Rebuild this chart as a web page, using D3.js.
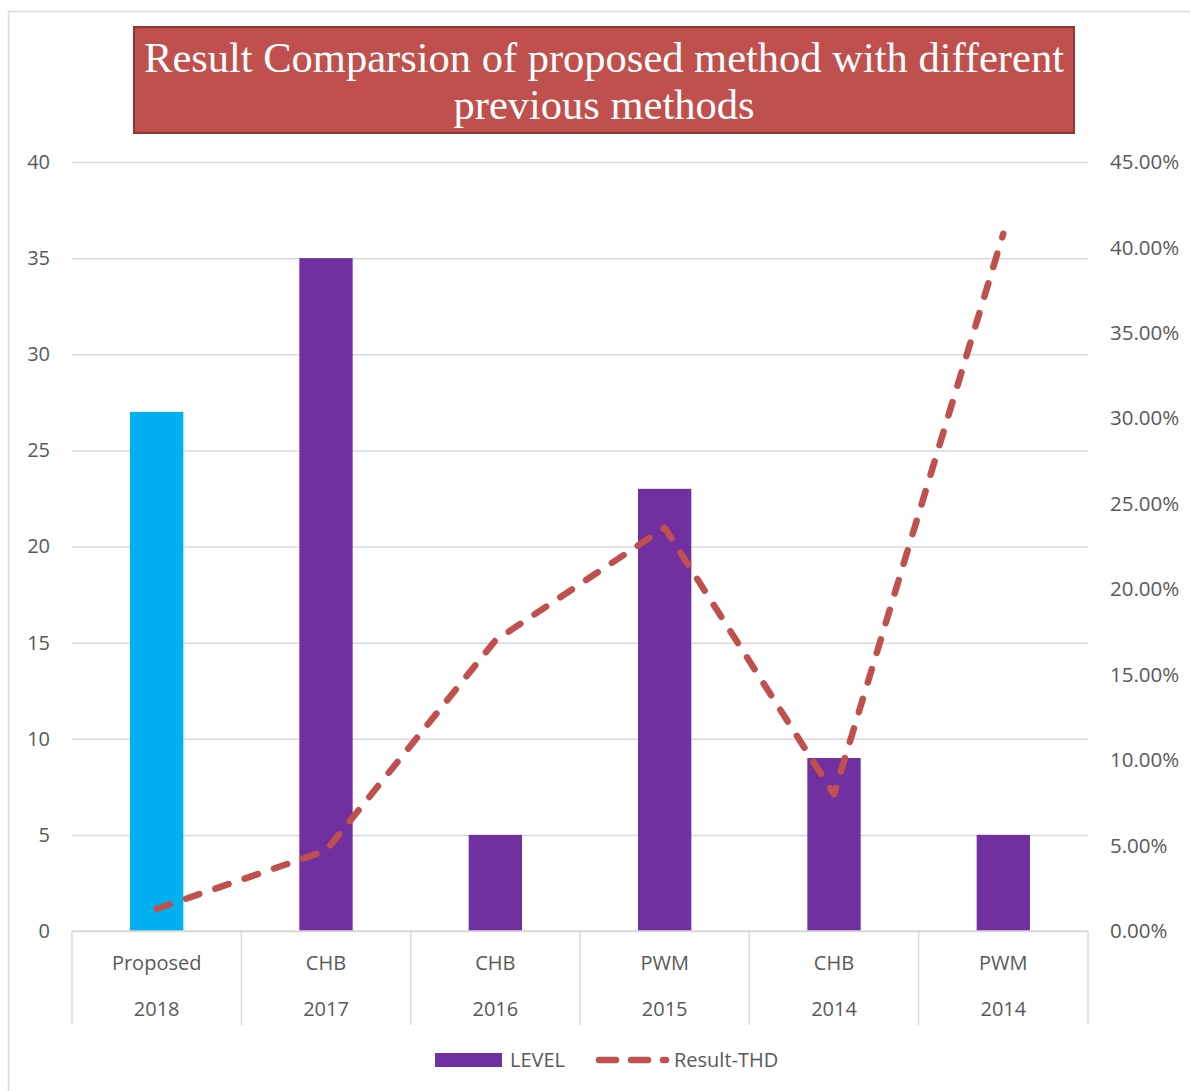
<!DOCTYPE html>
<html>
<head>
<meta charset="utf-8">
<script src="https://cdn.jsdelivr.net/npm/d3@7"></script>
<style>
  body { margin: 0; background: #fff; }
  svg { display: block; }
</style>
</head>
<body>
<svg id="chart"></svg>
<script>
// data
const methods = ['Proposed', 'CHB', 'CHB', 'PWM', 'CHB', 'PWM'];
const years = ['2018', '2017', '2016', '2015', '2014', '2014'];
const levels = [27, 35, 5, 23, 9, 5];
const thd = [0.013, 0.047, 0.17, 0.236, 0.08, 0.408];
const levelTicks = [0, 5, 10, 15, 20, 25, 30, 35, 40];
const thdTicks = [0, 0.05, 0.10, 0.15, 0.20, 0.25, 0.30, 0.35, 0.40, 0.45];

const width = 1190, height = 1091;
const margin = { top: 162, right: 102, bottom: 160, left: 72 };
const innerW = width - margin.left - margin.right;
const innerH = height - margin.top - margin.bottom;
const font = "'Open Sans', 'Noto Sans', sans-serif";
const textColor = '#595959';
const gridColor = '#d9d9d9';

const svg = d3.select('#chart')
    .attr('width', width)
    .attr('height', height);

// outer chart border
svg.append('rect')
    .attr('x', 8.5).attr('y', 11.5)
    .attr('width', width).attr('height', height)
    .attr('fill', 'none')
    .attr('stroke', gridColor)
    .attr('stroke-width', 1.5);

const chart = svg.append('g')
    .attr('transform', `translate(${margin.left},${margin.top})`);

const xScale = d3.scaleBand()
    .domain(d3.range(methods.length))
    .range([0, innerW])
    .paddingInner(0.685)
    .paddingOuter(0.3425);

const bandStep = innerW / methods.length;

const yLeft = d3.scaleLinear().domain([0, 40]).range([innerH, 0]);
const yRight = d3.scaleLinear().domain([0, 0.45]).range([innerH, 0]);

// gridlines + left axis
const yAxis = d3.axisLeft(yLeft)
    .tickValues(levelTicks)
    .tickSize(-innerW)
    .tickPadding(22)
    .tickFormat(d3.format('d'));

const yAxisG = chart.append('g')
    .call(yAxis)
    .call(g => g.select('.domain').remove());
yAxisG.selectAll('line').attr('stroke', gridColor).attr('stroke-width', 1.5);
yAxisG.selectAll('text')
    .attr('fill', textColor)
    .style('font-family', font)
    .style('font-size', '20px');

// right axis (percent)
const yAxisR = d3.axisRight(yRight)
    .tickValues(thdTicks)
    .tickSize(0)
    .tickPadding(22)
    .tickFormat(d3.format('.2%'));

const yAxisRG = chart.append('g')
    .attr('transform', `translate(${innerW},0)`)
    .call(yAxisR)
    .call(g => g.select('.domain').remove());
yAxisRG.selectAll('text')
    .attr('fill', textColor)
    .style('font-family', font)
    .style('font-size', '20.5px');

// bars
chart.selectAll('.bar')
    .data(levels)
    .join('rect')
    .attr('class', 'bar')
    .attr('x', (d, i) => xScale(i))
    .attr('y', d => yLeft(d))
    .attr('width', xScale.bandwidth())
    .attr('height', d => innerH - yLeft(d))
    .attr('fill', (d, i) => i === 0 ? '#00b0f0' : '#7030a0');

// category axis with two label rows
const catG = chart.append('g')
    .attr('transform', `translate(0,${innerH})`);

catG.append('line')
    .attr('x1', 0).attr('x2', innerW)
    .attr('stroke', gridColor).attr('stroke-width', 1.5);

catG.selectAll('.sep')
    .data(d3.range(methods.length + 1))
    .join('line')
    .attr('class', 'sep')
    .attr('x1', i => i * bandStep).attr('x2', i => i * bandStep)
    .attr('y1', 0).attr('y2', 94)
    .attr('stroke', gridColor).attr('stroke-width', 1.5);

catG.selectAll('.method')
    .data(methods)
    .join('text')
    .attr('class', 'method')
    .attr('x', (d, i) => xScale(i) + xScale.bandwidth() / 2)
    .attr('y', 39)
    .attr('text-anchor', 'middle')
    .attr('fill', textColor)
    .style('font-family', font)
    .style('font-size', '20px')
    .text(d => d);

catG.selectAll('.year')
    .data(years)
    .join('text')
    .attr('class', 'year')
    .attr('x', (d, i) => xScale(i) + xScale.bandwidth() / 2)
    .attr('y', 85)
    .attr('text-anchor', 'middle')
    .attr('fill', textColor)
    .style('font-family', font)
    .style('font-size', '20px')
    .text(d => d);

// THD line on right axis
const line = d3.line()
    .x((d, i) => xScale(i) + xScale.bandwidth() / 2)
    .y(d => yRight(d));

chart.append('path')
    .datum(thd)
    .attr('d', line)
    .attr('fill', 'none')
    .attr('stroke', '#c0504d')
    .attr('stroke-width', 6.5)
    .attr('stroke-linecap', 'round')
    .attr('stroke-linejoin', 'round')
    .attr('stroke-dasharray', '14,17');

// title box
svg.append('rect')
    .attr('x', 134).attr('y', 27)
    .attr('width', 940).attr('height', 106)
    .attr('fill', '#c0504d')
    .attr('stroke', '#8c3836')
    .attr('stroke-width', 2);

const titleText = svg.append('text')
    .attr('x', 604)
    .attr('text-anchor', 'middle')
    .attr('fill', '#fff')
    .style('font-family', "'Liberation Serif', 'Times New Roman', serif")
    .style('font-size', '42.5px');
titleText.append('tspan').attr('x', 604).attr('y', 72)
    .text('Result Comparsion of proposed method with different');
titleText.append('tspan').attr('x', 604).attr('y', 119)
    .text('previous methods');

// legend
const legend = svg.append('g')
    .attr('transform', 'translate(0,1060)');

legend.append('rect')
    .attr('x', 435).attr('y', -7)
    .attr('width', 67).attr('height', 14)
    .attr('fill', '#7030a0');

legend.append('text')
    .attr('x', 510).attr('y', 7)
    .attr('fill', textColor)
    .style('font-family', font)
    .style('font-size', '20px')
    .text('LEVEL');

legend.append('line')
    .attr('x1', 599).attr('x2', 666)
    .attr('stroke', '#c0504d')
    .attr('stroke-width', 6.5)
    .attr('stroke-linecap', 'round')
    .attr('stroke-dasharray', '17,15');

legend.append('text')
    .attr('x', 674).attr('y', 7)
    .attr('fill', textColor)
    .style('font-family', font)
    .style('font-size', '20px')
    .text('Result-THD');
</script>
</body>
</html>
